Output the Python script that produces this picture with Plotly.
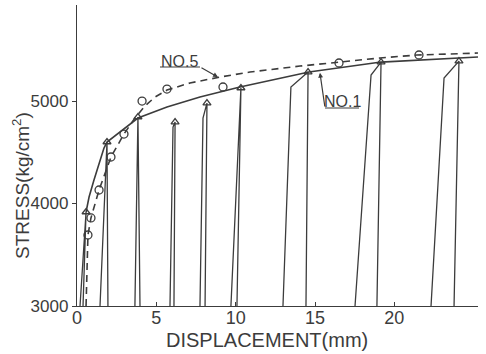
import plotly.graph_objects as go

# ---------------- data ----------------
# NO.1 envelope (solid)
env_disp = [0.57, 0.76, 1.07, 1.39, 1.70, 1.89, 3.84, 5.67, 7.75, 10.27, 14.62, 19.16, 25.27]
env_stress = [3917, 4063, 4229, 4395, 4541, 4600, 4834, 4941, 5039, 5137, 5283, 5380, 5429]

# NO.1 cyclic loops: base of rising branch, optional bend, peak (triangle), base of falling branch
loop_left_base = [0.19, 1.45, 3.65, 5.86, 7.75, 9.70, 12.98, 17.52, 22.31]
loop_bend_disp = [None, None, None, 6.05, 7.94, None, 13.48, 18.53, 23.13]
loop_bend_stress = [None, None, None, 4746, 4834, None, 5137, 5254, 5224]
loop_peak_disp = [0.57, 1.89, 3.84, 6.18, 8.19, 10.33, 14.56, 19.16, 24.07]
loop_peak_stress = [3917, 4600, 4844, 4795, 4980, 5127, 5283, 5380, 5390]
loop_right_base = [0.38, 1.95, 3.97, 6.11, 8.07, 10.08, 14.43, 18.90, 23.76]

# NO.5 curve (dashed) and its measured points (circles)
no5_disp = [0.57, 0.69, 0.88, 1.39, 2.14, 2.96, 3.65, 4.28, 4.92, 5.67, 7.12, 9.01, 10.90,
            14.05, 16.57, 19.09, 21.42, 25.27]
no5_stress = [3000, 3693, 3859, 4132, 4454, 4678, 4834, 4951, 5039, 5107, 5176, 5234, 5283,
              5341, 5380, 5420, 5449, 5468]
no5_pt_disp = [0.69, 0.88, 1.39, 2.14, 2.96, 4.10, 5.67, 9.20, 16.51, 21.55]
no5_pt_stress = [3693, 3859, 4132, 4454, 4678, 5000, 5117, 5137, 5371, 5449]

x_ticks = [0, 5, 10, 15, 20]
y_ticks = [3000, 4000, 5000]
BASE = 3000

INK = "#3c3c3c"
FONT = "Liberation Sans"

# ---------------- build loop paths ----------------
lx, ly = [], []
for i in range(len(loop_peak_disp)):
    lx.append(loop_left_base[i]); ly.append(BASE)
    if loop_bend_disp[i] is not None:
        lx.append(loop_bend_disp[i]); ly.append(loop_bend_stress[i])
    lx.append(loop_peak_disp[i]); ly.append(loop_peak_stress[i])
    lx.append(loop_right_base[i]); ly.append(BASE)
    lx.append(None); ly.append(None)

fig = go.Figure()
fig.add_trace(go.Scatter(x=lx, y=ly, mode="lines",
                         line=dict(color=INK, width=1.3), hoverinfo="skip"))
fig.add_trace(go.Scatter(x=env_disp, y=env_stress, mode="lines",
                         line=dict(color=INK, width=1.6)))
fig.add_trace(go.Scatter(x=no5_disp, y=no5_stress, mode="lines",
                         line=dict(color=INK, width=1.6, dash="7px,5px")))
fig.add_trace(go.Scatter(x=loop_peak_disp, y=loop_peak_stress, mode="markers",
                         marker=dict(symbol="triangle-up-open", size=7, color=INK,
                                     line=dict(width=1.3, color=INK)),
                         cliponaxis=False))
fig.add_trace(go.Scatter(x=no5_pt_disp, y=no5_pt_stress, mode="markers",
                         marker=dict(symbol="circle-open", size=8, color=INK,
                                     line=dict(width=1.3, color=INK)),
                         cliponaxis=False))

# ---------------- labels NO.5 / NO.1 ----------------
ann = []
shapes = []
# NO.5
ann.append(dict(x=6.49, y=5390, xref="x", yref="y", text="NO.5", showarrow=False,
                font=dict(family=FONT, size=16, color=INK)))
shapes.append(dict(type="line", xref="x", yref="y", x0=5.23, x1=7.75, y0=5332, y1=5332,
                   line=dict(color=INK, width=1.2)))
ann.append(dict(x=8.88, y=5234, xref="x", yref="y", ax=7.75, ay=5332, axref="x", ayref="y",
                text="", showarrow=True, arrowhead=2, arrowsize=0.8, arrowwidth=1.2,
                arrowcolor=INK))
# NO.1
ann.append(dict(x=16.76, y=5000, xref="x", yref="y", text="NO.1", showarrow=False,
                font=dict(family=FONT, size=16, color=INK)))
shapes.append(dict(type="line", xref="x", yref="y", x0=15.63, x1=17.77, y0=4932, y1=4932,
                   line=dict(color=INK, width=1.2)))
ann.append(dict(x=15.31, y=5275, xref="x", yref="y", ax=15.63, ay=4932, axref="x", ayref="y",
                text="", showarrow=True, arrowhead=2, arrowsize=0.8, arrowwidth=1.2,
                arrowcolor=INK))

# axis titles
ann.append(dict(x=0.474, y=0, xref="paper", yref="paper", yshift=-34, yanchor="middle",
                text="DISPLACEMENT(mm)", showarrow=False,
                font=dict(family=FONT, size=20, color=INK)))
ann.append(dict(x=-0.137, y=0.399, xref="paper", yref="paper", textangle=-90, xshift=-15,
                text="STRESS(kg/cm<sup>2</sup>)", showarrow=False,
                font=dict(family=FONT, size=19, color=INK)))

fig.update_layout(
    width=486, height=354,
    margin=dict(l=77, r=8, t=5, b=48),
    paper_bgcolor="white", plot_bgcolor="white",
    showlegend=False,
    annotations=ann, shapes=shapes,
    font=dict(family=FONT, color=INK),
)
fig.update_xaxes(range=[0, 25.27], tickvals=x_ticks, ticks="inside", ticklen=4,
                 tickcolor=INK, tickwidth=1.2, showline=True, linecolor=INK, linewidth=1.4,
                 ticklabelstandoff=-5,
                 showgrid=False, zeroline=False, tickfont=dict(family=FONT, size=18, color=INK))
fig.update_yaxes(range=[3000, 5937], tickvals=y_ticks, ticks="outside", ticklen=4,
                 tickcolor=INK, tickwidth=1.2, showline=True, linecolor=INK, linewidth=1.4,
                 showgrid=False, zeroline=False, tickfont=dict(family=FONT, size=17, color=INK))

fig.write_html("out.html")
